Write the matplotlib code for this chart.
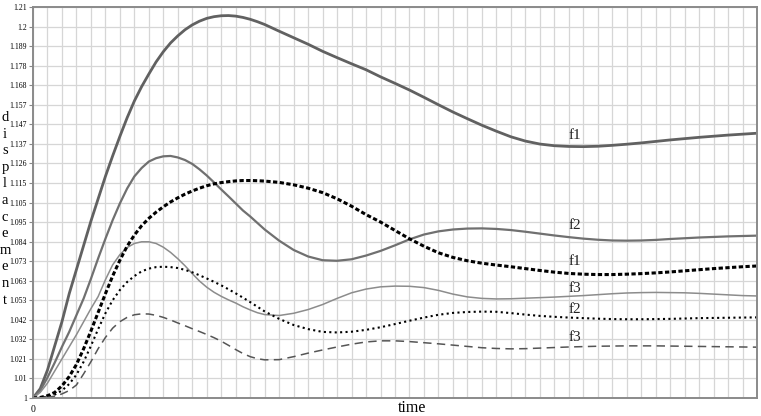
"""Displacement response curves over time."""

import matplotlib
matplotlib.use("Agg")
import matplotlib.pyplot as plt
import numpy as np

# time steps: half a grid column up to 16, then one column each
time = [i * 0.5 for i in range(33)] + list(range(17, 51))

# solid curves
f1_solid = [1.0, 1.005, 1.015, 1.028, 1.041, 1.056, 1.069, 1.082, 1.095, 1.107,
            1.119, 1.130, 1.1405, 1.1505, 1.1595, 1.1672, 1.174, 1.1805, 1.186, 1.1907,
            1.1945, 1.1978, 1.2004, 1.2024, 1.2039, 1.2048, 1.2053, 1.2054, 1.2051, 1.2044,
            1.2034, 1.2021, 1.2006,
            1.197, 1.1935, 1.19,
            1.1862, 1.1828, 1.1795, 1.1763, 1.1725, 1.169, 1.1654, 1.1615, 1.1575, 1.1536,
            1.15, 1.1465, 1.1433, 1.1403, 1.138, 1.1364, 1.1355, 1.1351, 1.135, 1.1352,
            1.1357, 1.1363, 1.137, 1.1378, 1.1386, 1.1393, 1.14, 1.1406, 1.1412, 1.1417,
            1.1422]
f2_solid = [1.0, 1.004, 1.011, 1.019, 1.0275, 1.0355, 1.0445, 1.0535, 1.064, 1.075,
            1.0855, 1.0955, 1.1045, 1.1125, 1.119, 1.1235, 1.127, 1.1288, 1.1298, 1.130,
            1.1292, 1.1278, 1.1257, 1.1228, 1.1195, 1.1158, 1.112, 1.1083, 1.1045, 1.1007,
            1.0975, 1.094, 1.0905,
            1.0845, 1.0795, 1.076,
            1.074, 1.0737, 1.0745, 1.0765, 1.079, 1.082, 1.0852, 1.0878, 1.0895, 1.0905,
            1.091, 1.0911, 1.0908, 1.0902, 1.0893, 1.0883, 1.0873, 1.0864, 1.0856, 1.085,
            1.0846, 1.0845, 1.0846, 1.0849, 1.0854, 1.0858, 1.0862, 1.0865, 1.0868, 1.087,
            1.0872]
f3_solid = [1.0, 1.003, 1.008, 1.0145, 1.021, 1.0275, 1.034, 1.041, 1.048, 1.0545,
            1.0635, 1.0715, 1.077, 1.0808, 1.083, 1.0839, 1.0839, 1.083, 1.081, 1.0782,
            1.0748, 1.071, 1.0668, 1.0628, 1.0595, 1.0568, 1.0546, 1.0527, 1.051, 1.049,
            1.0473, 1.0458, 1.0448,
            1.0443, 1.0455, 1.0475,
            1.0502, 1.0535, 1.0565, 1.0585, 1.0597, 1.0601, 1.06, 1.0593, 1.0578, 1.0558,
            1.0543, 1.0535, 1.0532, 1.0533, 1.0536, 1.0539, 1.0542, 1.0546, 1.055, 1.0555,
            1.056, 1.0564, 1.0566, 1.0567, 1.0566, 1.0565, 1.0562, 1.0558, 1.0554, 1.055,
            1.0548]

# dashed / dotted curves
f1_dash = [1.0, 1.0003, 1.0012, 1.003, 1.0065, 1.0115, 1.018, 1.0265, 1.036, 1.046,
           1.056, 1.0655, 1.074, 1.0815, 1.0875, 1.0925, 1.0965, 1.0998, 1.1027, 1.1053,
           1.1075, 1.1095, 1.1112, 1.1127, 1.114, 1.115, 1.1157, 1.1162, 1.1166, 1.1168,
           1.1168, 1.1167, 1.1165,
           1.1158, 1.1145, 1.1127,
           1.1103, 1.107, 1.103, 1.0985, 1.0945, 1.09, 1.0855, 1.0815, 1.078, 1.0755,
           1.0737, 1.0724, 1.0714, 1.0705, 1.0695, 1.0685, 1.0676, 1.0669, 1.0665, 1.0663,
           1.0663, 1.0665, 1.0668, 1.0672, 1.0677, 1.0683, 1.0689, 1.0695, 1.07, 1.0705,
           1.0709]
f2_dot = [1.0, 1.0001, 1.0006, 1.0018, 1.004, 1.0075, 1.0125, 1.0195, 1.028, 1.037,
          1.0455, 1.0525, 1.058, 1.0623, 1.0655, 1.068, 1.0695, 1.0703, 1.0705, 1.0703,
          1.0698, 1.0688, 1.0675, 1.0659, 1.0642, 1.0624, 1.0605, 1.0584, 1.0562, 1.0539,
          1.0515, 1.049, 1.0465,
          1.0425, 1.0392, 1.037,
          1.0355, 1.0352, 1.0356, 1.0366, 1.038, 1.0397, 1.0415, 1.0432, 1.0447, 1.0457,
          1.0462, 1.0464, 1.0463, 1.0456, 1.0448, 1.0441, 1.0436, 1.0432, 1.0429, 1.0426,
          1.0424, 1.0423, 1.0423, 1.0424, 1.0425, 1.0427, 1.0429, 1.043, 1.0431, 1.0432,
          1.0433]
f3_dash = [1.0, 1.0, 1.0003, 1.001, 1.0022, 1.004, 1.007, 1.013, 1.0195, 1.0265,
           1.0325, 1.0375, 1.041, 1.0433, 1.0447, 1.0452, 1.0451, 1.0444, 1.0433, 1.0419,
           1.0403, 1.0388, 1.0372, 1.0357, 1.0341, 1.0324, 1.0305, 1.0283, 1.026, 1.0239,
           1.0222, 1.0211, 1.0205,
           1.0206, 1.0222, 1.0241,
           1.0258, 1.0274, 1.0289, 1.0301, 1.0307, 1.0307, 1.0303, 1.0297, 1.0291, 1.0284,
           1.0277, 1.027, 1.0266, 1.0264, 1.0265, 1.0268, 1.0271, 1.0274, 1.0276, 1.0278,
           1.0279, 1.028, 1.028, 1.028, 1.0279, 1.0278, 1.0277, 1.0276, 1.0275, 1.0274,
           1.0273]

y_ticks = np.linspace(1.0, 1.21, 21)
y_tick_labels = ["1", "1.01", "1.021", "1.032", "1.042", "1.053", "1.063", "1.073",
                 "1.084", "1.095", "1.105", "1.115", "1.126", "1.137", "1.147", "1.157",
                 "1.168", "1.178", "1.189", "1.2", "1.21"]

# curve labels: text, x, y
curve_labels = [("f1", 37.4, 1.1412), ("f2", 37.4, 1.0924), ("f1", 37.4, 1.0732),
                ("f3", 37.4, 1.0587), ("f2", 37.4, 1.0476), ("f3", 37.4, 1.0324)]

SERIF = "Liberation Serif"


def main() -> None:
    fig = plt.figure(figsize=(7.61, 4.16), dpi=100)
    ax = fig.add_axes([33 / 761, 18 / 416, 724 / 761, 391 / 416])

    ax.plot(time, f1_solid, color="#616161", lw=2.0)
    ax.plot(time, f2_solid, color="#707070", lw=1.6)
    ax.plot(time, f3_solid, color="#8c8c8c", lw=1.1)
    ax.plot(time, f1_dash, color="black", lw=2.2, dashes=(1.4, 0.8))
    ax.plot(time, f2_dot, color="black", lw=1.5, dashes=(1.0, 1.6))
    ax.plot(time, f3_dash, color="#555555", lw=1.1, dashes=(5.5, 3.5))

    for text, x, y in curve_labels:
        ax.text(x, y, text, ha="center", va="center", fontsize=11,
                family=SERIF, color="#222222")

    ax.set_xlim(0, 50)
    ax.set_ylim(1.0, 1.21)
    ax.set_xticks([0])
    ax.set_xticklabels(["0"], family=SERIF, fontsize=7)
    ax.set_xticks(np.arange(0, 51), minor=True)
    ax.set_yticks(y_ticks)
    ax.set_yticklabels(y_tick_labels, family=SERIF, fontsize=5.6)
    ax.tick_params(axis="x", which="both", length=0, pad=5)
    ax.tick_params(axis="y", length=3, width=0.8, color="#888888", pad=1.5)
    ax.grid(True, which="both", color="#d6d6d6", lw=0.9)
    ax.set_axisbelow(True)
    for spine in ax.spines.values():
        spine.set_color("#8a8a8a")
        spine.set_linewidth(1.4)

    fig.text(412 / 761, 1 - 408 / 416, "time", ha="center", va="center",
             fontsize=11.5, family=SERIF)

    # vertical axis title, one letter per line
    for i, letter in enumerate("displacement"):
        y_px = 117 + i * 16.6 + 4
        fig.text(5 / 761, 1 - y_px / 416, letter, ha="center", va="baseline",
                 fontsize=10.5, family=SERIF)

    fig.savefig("out.png", dpi=100)


if __name__ == "__main__":
    main()
